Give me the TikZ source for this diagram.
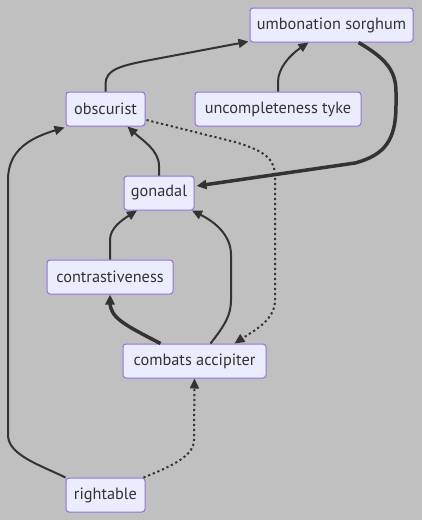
\documentclass[tikz,border=0pt]{standalone}
\usepackage{fontspec}
\setmainfont{PT Sans}
\usetikzlibrary{arrows.meta,calc}
\definecolor{bg}{HTML}{C0C0C0}
\definecolor{nodefill}{HTML}{ECECFF}
\definecolor{nodeborder}{HTML}{9370DB}
\definecolor{txt}{HTML}{333333}
\definecolor{lc}{HTML}{333333}
\begin{document}
\begin{tikzpicture}[x=1pt,y=-1pt,
 box/.style={draw=nodeborder, fill=nodefill, line width=1pt, rounded corners=3pt, inner sep=0pt, minimum height=34pt, text=txt, font=\fontsize{16.3}{18}\selectfont},
 edge/.style={draw=lc, line width=2pt, -{Triangle[length=10pt,width=9pt]}},
 thickedge/.style={edge, line width=3.5pt, -{Triangle[length=10pt,width=9pt]}},
 dotedge/.style={edge, dash pattern=on 2.2pt off 2.8pt}]
\fill[bg] (0,0) rectangle (422,520);
\useasboundingbox (0,0) rectangle (422,520);
\node[box, minimum width=163pt] (us) at (331.5,25) {umbonation sorghum};
\node[box, minimum width=79pt] (obs) at (105.5,109) {obscurist};
\node[box, minimum width=166pt] (unc) at (278,109) {uncompleteness tyke};
\node[box, minimum width=70pt] (gon) at (159,193) {gonadal};
\node[box, minimum width=126pt] (con) at (110,277) {contrastiveness};
\node[box, minimum width=143pt] (ca) at (194.5,361) {combats accipiter};
\node[box, minimum width=79pt] (rt) at (105.5,495) {rightable};
% edges
\draw[edge] (obs.north) -- (105.5,84) .. controls (105.5,70) and (120,66) .. (145,61) -- ($(us.south west)+(-1,-1)$);
\draw[edge] (unc.north) -- (278,82) .. controls (278,68) and (290,55) .. ($(us.south)+(-23,0)$);
\draw[thickedge] ($(us.south)+(27,0)$) .. controls (385,58) and (396,70) .. (396,92) -- (396,105) .. controls (396,140) and (385,155) .. (355,163) -- ($(gon.east)+(2,-7)$);
\draw[edge] (gon.north) -- (159,166) .. controls (159,150) and (142,140) .. ($(obs.south)+(22,0)$);
\draw[dotedge] ($(obs.east)+(1,11)$) -- (235,142) .. controls (268,152) and (275,160) .. (275,178) -- (275,300) .. controls (275,320) and (255,330) .. ($(ca.north)+(40,0)$);
\draw[edge] (con.north) -- (110,240) .. controls (110,228) and (122,220) .. ($(gon.south)+(-22,0)$);
\draw[thickedge] ($(ca.north)+(-34,0)$) .. controls (125,325) and (110,318) .. (110,302) -- (con.south);
\draw[edge] ($(ca.north)+(16,0)$) .. controls (225,325) and (231,315) .. (231,300) -- (231,255) .. controls (231,235) and (215,222) .. ($(gon.south)+(33,0)$);
\draw[edge] (rt.north west) .. controls (40,465) and (8,455) .. (8,435) -- (8,180) .. controls (8,150) and (30,138) .. ($(obs.south west)+(-1,1)$);
\draw[dotedge] ($(rt.north east)+(-2,0)$) .. controls (175,465) and (194,455) .. (194,440) -- (ca.south);
\end{tikzpicture}
\end{document}
